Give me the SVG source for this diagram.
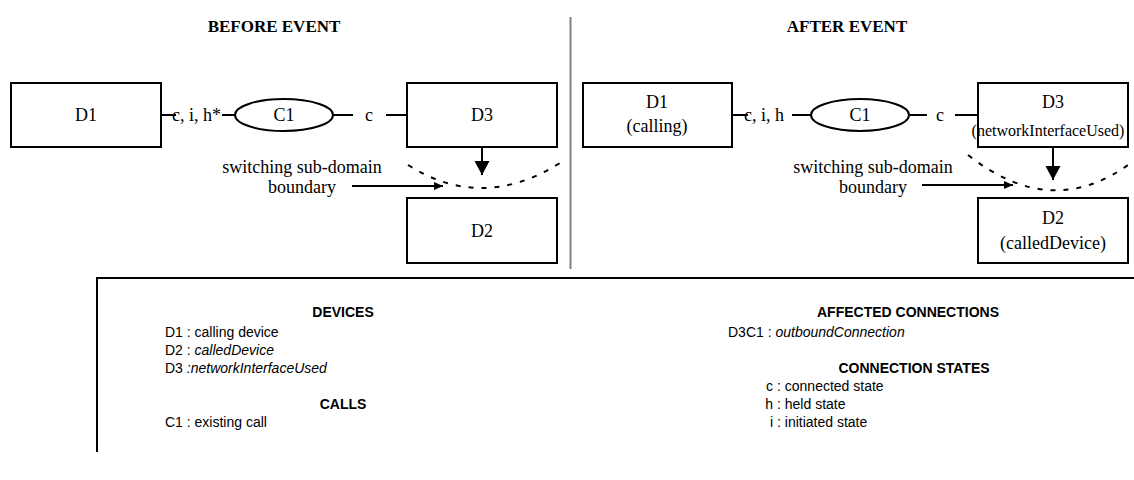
<svg xmlns="http://www.w3.org/2000/svg" width="1134" height="480" viewBox="0 0 1134 480">
<style>
.box{fill:#fff;stroke:#000;stroke-width:2}
.ln{stroke:#000;stroke-width:2;fill:none}
.dash{stroke:#000;stroke-width:2;fill:none;stroke-dasharray:5 8}
.t{font-family:"Liberation Serif","Times New Roman",serif;font-size:18px;fill:#000}
.ts{font-family:"Liberation Serif","Times New Roman",serif;font-size:16px;fill:#000}
.title{font-family:"Liberation Serif","Times New Roman",serif;font-size:17px;font-weight:bold;fill:#000}
.m{text-anchor:middle}
.lg{font-family:"Liberation Sans",Arial,sans-serif;font-size:14px;fill:#000}
.lh{font-family:"Liberation Sans",Arial,sans-serif;font-size:14px;font-weight:bold;fill:#000;text-anchor:middle}
.it{font-style:italic}
</style>
<defs>
<marker id="big" markerWidth="16" markerHeight="16" refX="14" refY="7.5" orient="auto" markerUnits="userSpaceOnUse"><path d="M0,0 L14,7.5 L0,15 z" fill="#000"/></marker>
<marker id="small" markerWidth="10" markerHeight="8" refX="9" refY="4" orient="auto" markerUnits="userSpaceOnUse"><path d="M0,0 L9,4 L0,8 z" fill="#000"/></marker>
</defs>

<text class="title m" x="274" y="32">BEFORE EVENT</text>
<text class="title m" x="847" y="32">AFTER EVENT</text>
<line x1="570.5" y1="17" x2="570.5" y2="269" stroke="#808080" stroke-width="2"/>

<g id="connectors">
<line class="ln" x1="161" y1="115" x2="176" y2="115"/>
<line class="ln" x1="222" y1="115" x2="235" y2="115"/>
<line class="ln" x1="333" y1="115" x2="353" y2="115"/>
<line class="ln" x1="386" y1="115" x2="407" y2="115"/>
<line class="ln" x1="482" y1="147" x2="482" y2="175" marker-end="url(#big)"/>
<line class="ln" x1="352" y1="186" x2="443" y2="186" marker-end="url(#small)"/>
<path class="dash" d="M408,165 Q482,212 560,163"/>
<line class="ln" x1="732" y1="115" x2="748" y2="115"/>
<line class="ln" x1="792" y1="115" x2="811" y2="115"/>
<line class="ln" x1="910" y1="115" x2="927" y2="115"/>
<line class="ln" x1="955" y1="115" x2="978" y2="115"/>
<line class="ln" x1="1053" y1="147" x2="1053" y2="180" marker-end="url(#big)"/>
<line class="ln" x1="922" y1="185" x2="1013" y2="185" marker-end="url(#small)"/>
<path class="dash" d="M968,155 Q1053,222 1132,162"/>
</g>
<g id="connector-labels">
<text class="t" x="172" y="121">c, i, h*</text>
<text class="t m" x="369" y="121">c</text>
<text class="t" x="744" y="121">c, i, h</text>
<text class="t m" x="940" y="121">c</text>
<text class="t m" x="302" y="173">switching sub-domain</text>
<text class="t m" x="302" y="193">boundary</text>
<text class="t m" x="873" y="173">switching sub-domain</text>
<text class="t m" x="873" y="193">boundary</text>
</g>

<g id="before-D1"><rect class="box" x="11" y="83" width="150" height="64"/><text class="t m" x="86" y="121">D1</text></g>
<g id="before-C1"><ellipse class="box" cx="284" cy="115" rx="49" ry="16"/><text class="t m" x="284" y="121">C1</text></g>
<g id="before-D3"><rect class="box" x="407" y="83" width="150" height="64"/><text class="t m" x="482" y="121">D3</text></g>
<g id="before-D2"><rect class="box" x="407" y="198" width="150" height="65"/><text class="t m" x="482" y="237">D2</text></g>

<g id="after-D1"><rect class="box" x="583" y="83" width="149" height="64"/><text class="t m" x="657" y="108">D1</text><text class="t m" x="657" y="132">(calling)</text></g>
<g id="after-C1"><ellipse class="box" cx="860" cy="115" rx="49" ry="16"/><text class="t m" x="860" y="121">C1</text></g>
<g id="after-D3"><rect class="box" fill-opacity="0" x="978" y="83" width="150" height="64"/><text class="ts m" x="1048" y="136">(networkInterfaceUsed)</text><text class="t m" x="1053" y="108">D3</text></g>
<g id="after-D2"><rect class="box" x="978" y="198" width="150" height="65"/><text class="t m" x="1053" y="224">D2</text><text class="t m" x="1053" y="249">(calledDevice)</text></g>

<g id="legend">
<path class="ln" d="M97,452 V278 H1134"/>
<text class="lh" x="343" y="317">DEVICES</text>
<text class="lg" x="165" y="337">D1  : calling device</text>
<text class="lg" x="165" y="355">D2  : <tspan class="it">calledDevice</tspan></text>
<text class="lg" x="165" y="373">D3  <tspan class="it">:networkInterfaceUsed</tspan></text>
<text class="lh" x="343" y="409">CALLS</text>
<text class="lg" x="165" y="427">C1  : existing call</text>
<text class="lh" x="908" y="317">AFFECTED CONNECTIONS</text>
<text class="lg" x="728" y="337">D3C1  : <tspan class="it">outboundConnection</tspan></text>
<text class="lh" x="914" y="373">CONNECTION STATES</text>
<text class="lg" x="773" y="391" text-anchor="end">c</text><text class="lg" x="777" y="391">: connected state</text>
<text class="lg" x="773" y="409" text-anchor="end">h</text><text class="lg" x="777" y="409">: held state</text>
<text class="lg" x="773" y="427" text-anchor="end">i</text><text class="lg" x="777" y="427">: initiated state</text>
</g>
</svg>
